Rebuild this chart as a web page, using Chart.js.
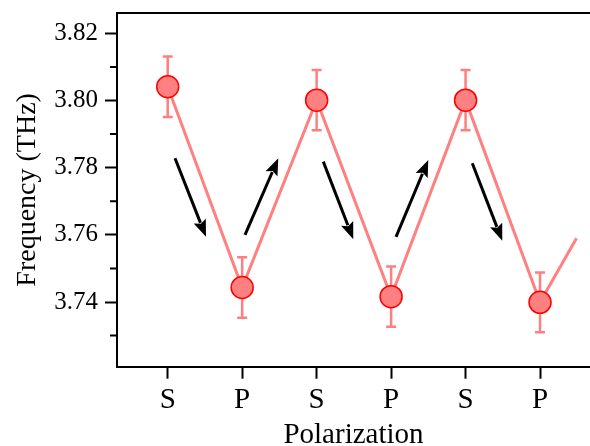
<!DOCTYPE html>
<html>
<head>
<meta charset="utf-8">
<script src="https://cdn.jsdelivr.net/npm/chart.js@4/dist/chart.umd.min.js"></script>
<style>
html,body{margin:0;padding:0;background:#fff;}
canvas{display:block;}
</style>
</head>
<body>
<canvas id="c" width="590" height="446"></canvas>
<script>
// ---- data ----
const categories = ['S', 'P', 'S', 'P', 'S', 'P'];
const frequency = [3.8041, 3.7443, 3.8001, 3.7416, 3.8001, 3.7399];
const errors = [0.0090, 0.0090, 0.0090, 0.0090, 0.0090, 0.0089];
// line continues past the last point (no marker)
const tailX = [5, 5.49];
const tailY = [3.7399, 3.7590];
// arrow annotations (category index, frequency)
const arrowStartX = [0.098, 1.038, 2.089, 3.066, 4.090];
const arrowStartY = [3.7828, 3.7600, 3.7818, 3.7594, 3.7813];
const arrowEndX   = [0.514, 1.485, 2.492, 3.499, 4.493];
const arrowEndY   = [3.7594, 3.7828, 3.7587, 3.7823, 3.7582];
const yMajorTicks = [3.74, 3.76, 3.78, 3.80, 3.82];
const yMinorTicks = [3.73, 3.75, 3.77, 3.79, 3.81];

const LINE = '#FF8080';
const FONT = "'Liberation Serif', 'Times New Roman', serif";

const mainData = frequency.map((v, i) => ({x: i, y: v}));
const tailData = tailX.map((x, i) => ({x: x, y: tailY[i]}));

const extras = {
  id: 'extras',
  beforeDatasetsDraw(chart) {
    const ctx = chart.ctx, xs = chart.scales.x, ys = chart.scales.y;
    ctx.save();
    ctx.strokeStyle = '#FF7F7F';
    ctx.lineWidth = 2.5;
    frequency.forEach((v, i) => {
      const px = xs.getPixelForValue(i);
      const t = ys.getPixelForValue(v + errors[i]);
      const b = ys.getPixelForValue(v - errors[i]);
      ctx.beginPath();
      ctx.moveTo(px, t); ctx.lineTo(px, b);
      ctx.moveTo(px - 5, t); ctx.lineTo(px + 5, t);
      ctx.moveTo(px - 5, b); ctx.lineTo(px + 5, b);
      ctx.stroke();
    });
    ctx.restore();
  },
  afterDraw(chart) {
    const ctx = chart.ctx, xs = chart.scales.x, ys = chart.scales.y, a = chart.chartArea;
    ctx.save();
    ctx.strokeStyle = '#000';
    ctx.lineWidth = 2;
    ctx.beginPath();
    ctx.moveTo(a.left - 1, a.top);
    ctx.lineTo(chart.width, a.top);
    ctx.stroke();
    ctx.beginPath();
    yMinorTicks.forEach(v => {
      const py = ys.getPixelForValue(v);
      ctx.moveTo(a.left - 7, py); ctx.lineTo(a.left, py);
    });
    ctx.stroke();
    ctx.fillStyle = '#000';
    for (let i = 0; i < arrowStartX.length; i++) {
      const x0 = xs.getPixelForValue(arrowStartX[i]);
      const y0 = ys.getPixelForValue(arrowStartY[i]);
      const x1 = xs.getPixelForValue(arrowEndX[i]);
      const y1 = ys.getPixelForValue(arrowEndY[i]);
      const ang = Math.atan2(y1 - y0, x1 - x0);
      const hl = 17, hw = 6.5;
      const bx = x1 - hl * Math.cos(ang), by = y1 - hl * Math.sin(ang);
      ctx.lineWidth = 3;
      ctx.beginPath();
      ctx.moveTo(x0, y0); ctx.lineTo(bx + 2 * Math.cos(ang), by + 2 * Math.sin(ang));
      ctx.stroke();
      ctx.beginPath();
      ctx.moveTo(x1, y1);
      ctx.lineTo(bx + hw * Math.sin(ang), by - hw * Math.cos(ang));
      ctx.lineTo(bx + 3 * Math.cos(ang), by + 3 * Math.sin(ang));
      ctx.lineTo(bx - hw * Math.sin(ang), by + hw * Math.cos(ang));
      ctx.closePath();
      ctx.fill();
    }
    ctx.restore();
  }
};

new Chart(document.getElementById('c'), {
  type: 'line',
  data: {
    datasets: [
      {
        data: tailData,
        borderColor: LINE,
        borderWidth: 3,
        pointRadius: 0,
        fill: false,
        order: 2
      },
      {
        data: mainData,
        borderColor: LINE,
        borderWidth: 3,
        pointRadius: 11,
        pointHoverRadius: 11,
        pointBackgroundColor: LINE,
        pointBorderColor: '#FF0000',
        pointBorderWidth: 1.5,
        fill: false,
        order: 1
      }
    ]
  },
  options: {
    responsive: false,
    animation: false,
    devicePixelRatio: 1,
    layout: {autoPadding: false, padding: {left: 0, top: 13, right: 0, bottom: 0}},
    plugins: {legend: {display: false}, tooltip: {enabled: false}},
    scales: {
      x: {
        type: 'linear',
        min: -0.681,
        max: 5.671,
        afterFit(s) { s.height = 79.3; s.paddingLeft = 0; s.paddingRight = 0; },
        afterBuildTicks(s) { s.ticks = categories.map((c, i) => ({value: i})); },
        ticks: {
          includeBounds: false,
          autoSkip: false,
          maxRotation: 0,
          padding: 4,
          color: '#000',
          font: {family: FONT, size: 29},
          callback: (v) => categories[v] !== undefined ? categories[v] : ''
        },
        grid: {drawOnChartArea: false, tickLength: 12, tickWidth: 2, tickColor: '#000'},
        border: {display: true, color: '#000', width: 2},
        title: {
          display: true, text: 'Polarization', color: '#000',
          font: {family: FONT, size: 29, lineHeight: 0.75}, padding: 0
        }
      },
      y: {
        type: 'linear',
        min: 3.72074,
        max: 3.82604,
        afterFit(s) { s.width = 117; s.paddingTop = 0; s.paddingBottom = 0; },
        afterBuildTicks(s) { s.ticks = yMajorTicks.map(v => ({value: v})); },
        ticks: {
          includeBounds: false,
          padding: 7,
          color: '#000',
          font: {family: FONT, size: 25},
          callback: (v) => Number(v).toFixed(2)
        },
        grid: {drawOnChartArea: false, tickLength: 12, tickWidth: 2, tickColor: '#000'},
        border: {display: true, color: '#000', width: 2},
        title: {
          display: true, text: 'Frequency (THz)', color: '#000',
          font: {family: FONT, size: 28, lineHeight: 1.2}, padding: {top: 11, bottom: 0}
        }
      }
    }
  },
  plugins: [extras]
});
</script>
</body>
</html>
